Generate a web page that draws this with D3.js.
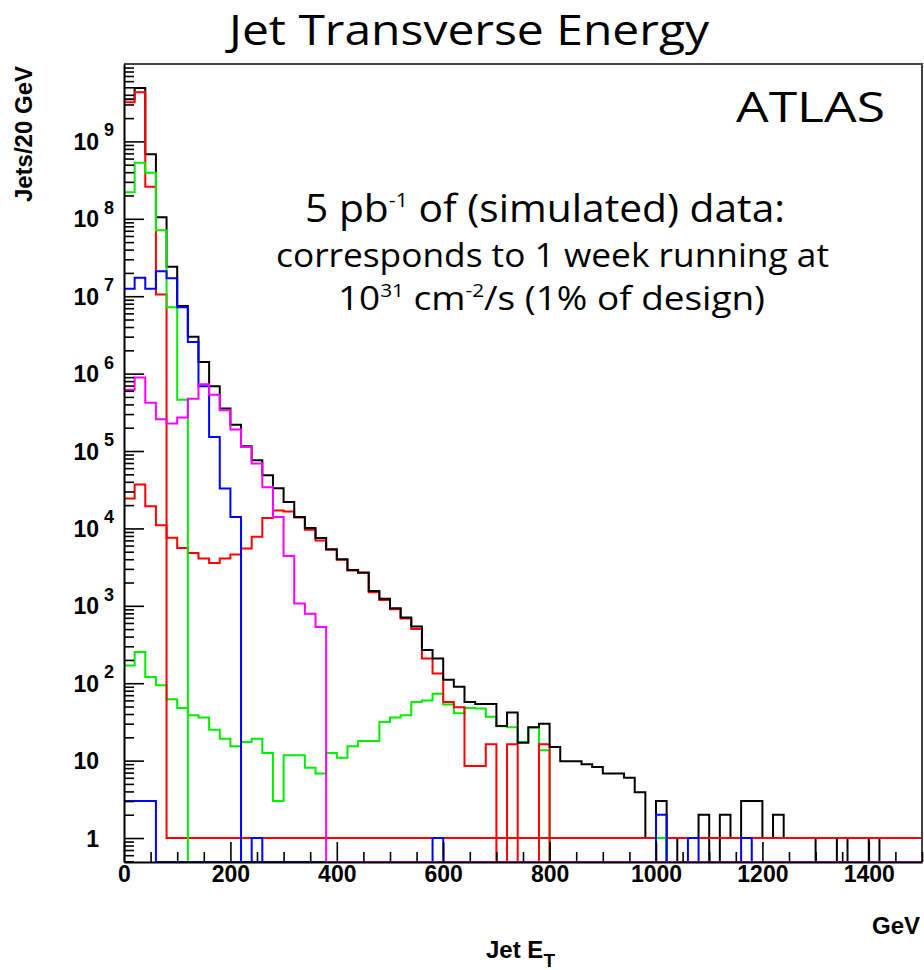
<!DOCTYPE html>
<html>
<head>
<meta charset="utf-8">
<script src="https://cdn.jsdelivr.net/npm/d3@7"></script>
<style>
body { margin: 0; background: #fff; }
.lab { font: bold 23px "Liberation Sans", Arial, sans-serif; fill: #000; }
.note { font-family: "Open Sans", sans-serif; fill: #000; }
</style>
</head>
<body>
<svg id="chart" width="924" height="970"></svg>
<script>
// 20 GeV bins from 0 to 1500 GeV (75 bins)
var binWidth = 20;

var total = [3.5e9, 4.9e9, 6.8e8, 1.05e8, 2.4e7, 7.5e6, 3.0e6, 1.41e6, 6.85e5, 3.53e5,
  2.19e5, 1.15e5, 7.6e4, 4.86e4, 3.3e4, 2.2e4, 1.4e4, 1.01e4, 7.5e3, 5.4e3,
  4.0e3, 2.9e3, 2.7e3, 1.55e3, 1.23e3, 930, 705, 540, 268, 209,
  111, 90, 57, 54, 54, 28, 42, 17, 27, 30,
  15, 9.8, 9.8, 9.0, 8.3, 6.8, 6.8, 6.0, 3.9, 1,
  3, 0, 1, 1, 2, 0, 2, 1, 3, 3,
  1, 2, 1, 1, 1, 0, 0, 1, 0, 0,
  1, 0, 0, 0, 0];

var redHigh = [3.2e9, 4.3e9, 2.6e8, 1.05e7, 1, 1, 1, 1, 1, 1,
  1, 1, 1, 1, 1, 1, 1, 1, 1, 1,
  1, 1, 1, 1, 1, 1, 1, 1, 1, 1,
  1, 1, 1, 1, 1, 1, 1, 1, 1, 1,
  1, 1, 1, 1, 1, 1, 1, 1, 1, 1,
  1, 1, 1, 1, 1, 1, 1, 1, 1, 1,
  1, 1, 1, 1, 1, 1, 1, 1, 1, 1,
  1, 1, 1, 1, 1];

var redLow = [2.43e4, 3.7e4, 1.93e4, 1.1e4, 7.6e3, 5.6e3, 4.8e3, 4.1e3, 3.57e3, 4.1e3,
  4.6e3, 5.5e3, 7.8e3, 1.36e4, 1.7e4, 1.65e4, 1.38e4, 9.6e3, 7.0e3, 5.3e3,
  3.95e3, 2.85e3, 2.65e3, 1.5e3, 1.19e3, 900, 685, 500, 208, 134,
  57, 49, 8.5, 8.5, 16.3, 0, 16.3, 0, 0, 16.3,
  0, 0, 0, 0, 0, 0, 0, 0, 0, 0,
  0, 0, 0, 0, 0, 0, 0, 0, 0, 0,
  0, 0, 0, 0, 0, 0, 0, 0, 0, 0,
  0, 0, 0, 0, 0];

var greenHigh = [2.2e8, 5.3e8, 3.95e8, 7.1e7, 7.2e6, 4.6e5, 0, 0, 0, 0,
  0, 0, 0, 0, 0, 0, 0, 0, 0, 0,
  0, 0, 0, 0, 0, 0, 0, 0, 0, 0,
  0, 0, 0, 0, 0, 0, 0, 0, 0, 0,
  0, 0, 0, 0, 0, 0, 0, 0, 0, 0,
  1, 0, 0, 0, 0, 0, 0, 0, 0, 0,
  0, 0, 0, 0, 0, 0, 0, 0, 0, 0,
  0, 0, 0, 0, 0];

var greenLow = [170, 253, 120, 94, 62, 48, 38.5, 36, 25, 19.2,
  15.3, 17.4, 19.2, 12.5, 3, 11.7, 11.7, 8.1, 6.8, 12.5,
  10.9, 15.3, 17.9, 17.9, 31.5, 36, 38.5, 57, 60, 73,
  53, 41, 48, 47, 37, 27.7, 27, 17.4, 26.7, 13.6,
  0, 0, 0, 0, 0, 0, 0, 0, 0, 0,
  0, 0, 0, 0, 0, 0, 0, 0, 0, 0,
  0, 0, 0, 0, 0, 0, 0, 0, 0, 0,
  0, 0, 0, 0, 0];

var blueHigh = [1.25e7, 1.73e7, 1.25e7, 2.1e7, 1.7e7, 7.2e6, 2.56e6, 6.85e5, 1.52e5, 3.27e4,
  1.4e4, 0, 0, 0, 0, 0, 0, 0, 0, 0,
  0, 0, 0, 0, 0, 0, 0, 0, 0, 0,
  0, 0, 0, 0, 0, 0, 0, 0, 0, 0,
  0, 0, 0, 0, 0, 0, 0, 0, 0, 0,
  0, 0, 0, 0, 0, 0, 0, 0, 0, 0,
  0, 0, 0, 0, 0, 0, 0, 0, 0, 0,
  0, 0, 0, 0, 0];

var blueLow = [3, 3, 3, 0, 0, 0, 0, 0, 0, 0,
  0, 0, 1, 0, 0, 0, 0, 0, 0, 0,
  0, 0, 0, 0, 0, 0, 0, 0, 0, 1,
  0, 0, 0, 0, 0, 0, 0, 0, 0, 0,
  0, 0, 0, 0, 0, 0, 0, 0, 0, 0,
  2, 0, 0, 1, 0, 0, 0, 0, 1, 0,
  0, 0, 0, 0, 0, 0, 0, 0, 0, 0,
  0, 0, 0, 0, 0];

var magenta = [6.2e5, 8.9e5, 4.2e5, 2.57e5, 2.26e5, 2.7e5, 4.75e5, 7.3e5, 5.35e5, 3.36e5,
  1.9e5, 1.13e5, 6.9e4, 3.4e4, 1.4e4, 4.4e3, 1.07e3, 790, 532, 0,
  0, 0, 0, 0, 0, 0, 0, 0, 0, 0,
  0, 0, 0, 0, 0, 0, 0, 0, 0, 0,
  0, 0, 0, 0, 0, 0, 0, 0, 0, 0,
  0, 0, 0, 0, 0, 0, 0, 0, 0, 0,
  0, 0, 0, 0, 0, 0, 0, 0, 0, 0,
  0, 0, 0, 0, 0];

var xMajor = [0, 200, 400, 600, 800, 1000, 1200, 1400];
var decades = [0, 1, 2, 3, 4, 5, 6, 7, 8, 9];

var svg = d3.select("#chart");
var plotL = 124, plotR = 922, plotT = 64, plotB = 862;
var yMin = 0.49;

var x = d3.scaleLinear().domain([0, 1500]).range([plotL, plotR]);
var y = d3.scaleLog().domain([yMin, 1e10]).range([plotB, plotT]);

svg.append("defs").append("clipPath").attr("id", "frame")
  .append("rect").attr("x", plotL).attr("y", plotT)
  .attr("width", plotR - plotL).attr("height", plotB - plotT);

var line = d3.line()
  .x(function(d) { return x(d[0]); })
  .y(function(d) { return y(Math.max(d[1], yMin)); })
  .curve(d3.curveStepAfter);

function histPath(vals) {
  var pts = [[0, yMin]];
  vals.forEach(function(v, i) { pts.push([i * binWidth, v]); });
  pts.push([vals.length * binWidth, vals[vals.length - 1]]);
  pts.push([vals.length * binWidth, yMin]);
  return line(pts);
}

var series = [
  {v: greenLow, c: "#00ee00"},
  {v: redLow, c: "#ff0000"},
  {v: total, c: "#000000"},
  {v: redHigh, c: "#ff0000"},
  {v: greenHigh, c: "#00ee00"},
  {v: blueHigh, c: "#0000ff"},
  {v: blueLow, c: "#0000ff"},
  {v: magenta, c: "#ff00ff"}
];

var g = svg.append("g").attr("clip-path", "url(#frame)");
series.forEach(function(s) {
  g.append("path").attr("d", histPath(s.v))
    .attr("fill", "none").attr("stroke", s.c).attr("stroke-width", 2);
});

// frame top/right
svg.append("path")
  .attr("d", "M" + plotL + "," + plotT + "H" + plotR + "V" + plotB)
  .attr("fill", "none").attr("stroke", "#444").attr("stroke-width", 2);

// x axis
var xMinor = d3.range(0, 1501, 50).filter(function(d) { return d % 200 !== 0; });
var xa = svg.append("g").attr("transform", "translate(0," + plotB + ")")
  .call(d3.axisBottom(x).tickValues(xMajor).tickSize(-20).tickSizeOuter(0)
    .tickPadding(4).tickFormat(d3.format("d")));
xa.select(".domain").attr("stroke", "#000").attr("stroke-width", 2);
xa.selectAll(".tick line").attr("stroke", "#000").attr("stroke-width", 1.6);
xa.selectAll(".tick text").attr("class", "lab");
xa.attr("font-family", null).attr("font-size", null);
var xm = svg.append("g").attr("transform", "translate(0," + plotB + ")")
  .call(d3.axisBottom(x).tickValues(xMinor).tickSize(-10).tickFormat(""));
xm.select(".domain").remove();
xm.selectAll(".tick line").attr("stroke", "#000").attr("stroke-width", 1.6);

// y axis
var yMajor = decades.map(function(k) { return Math.pow(10, k); });
var yMinor = [];
[-1, 0, 1, 2, 3, 4, 5, 6, 7, 8, 9].forEach(function(k) {
  [2, 3, 4, 5, 6, 7, 8, 9].forEach(function(m) {
    var v = m * Math.pow(10, k);
    if (v >= yMin && v <= 1e10) yMinor.push(v);
  });
});
var ya = svg.append("g").attr("transform", "translate(" + plotL + ",0)")
  .call(d3.axisLeft(y).tickValues(yMajor).tickSize(-20).tickSizeOuter(0).tickFormat(""));
ya.select(".domain").attr("stroke", "#000").attr("stroke-width", 2);
ya.selectAll(".tick line").attr("stroke", "#000").attr("stroke-width", 1.6);
var ym = svg.append("g").attr("transform", "translate(" + plotL + ",0)")
  .call(d3.axisLeft(y).tickValues(yMinor).tickSize(-10).tickFormat(""));
ym.select(".domain").remove();
ym.selectAll(".tick line").attr("stroke", "#000").attr("stroke-width", 1.6);

decades.forEach(function(k) {
  var ty = y(Math.pow(10, k));
  svg.append("text").attr("class", "lab").attr("x", 99).attr("y", ty + 8.5)
    .style("font-size", "23px")
    .attr("text-anchor", "end").text(k === 0 ? "1" : "10");
  if (k > 1) {
    svg.append("text").attr("class", "lab").attr("x", 104).attr("y", ty - 5)
      .style("font-size", "18px").text(k);
  }
});

// axis titles
svg.append("text").attr("class", "lab")
  .attr("transform", "translate(32,66) rotate(-90)")
  .attr("text-anchor", "end").style("font-size", "24px").text("Jets/20 GeV");
svg.append("text").attr("class", "lab").attr("x", 920).attr("y", 934)
  .attr("text-anchor", "end").style("font-size", "24px").text("GeV");
var xt = svg.append("text").attr("class", "lab").attr("x", 486).attr("y", 958)
  .style("font-size", "24px");
xt.append("tspan").text("Jet E");
xt.append("tspan").attr("dy", 9).style("font-size", "19px").text("T");

// title and notes
svg.append("text").attr("class", "note").attr("x", 229).attr("y", 45)
  .attr("textLength", 480).attr("lengthAdjust", "spacingAndGlyphs")
  .style("font-size", "42px").text("Jet Transverse Energy");
svg.append("text").attr("class", "note").attr("x", 736).attr("y", 122)
  .attr("textLength", 149).attr("lengthAdjust", "spacingAndGlyphs")
  .style("font-size", "42px").text("ATLAS");

var n1 = svg.append("text").attr("class", "note").attr("x", 305).attr("y", 222)
  .attr("textLength", 480).attr("lengthAdjust", "spacingAndGlyphs")
  .style("font-size", "38px");
n1.append("tspan").text("5 pb");
n1.append("tspan").attr("dy", -15).style("font-size", "20px").text("-1");
n1.append("tspan").attr("dy", 15).text(" of (simulated) data:");

svg.append("text").attr("class", "note").attr("x", 276).attr("y", 267)
  .attr("textLength", 553).attr("lengthAdjust", "spacingAndGlyphs")
  .style("font-size", "32px").text("corresponds to 1 week running at");

var n3 = svg.append("text").attr("class", "note").attr("x", 338).attr("y", 310)
  .attr("textLength", 427).attr("lengthAdjust", "spacingAndGlyphs")
  .style("font-size", "32px");
n3.append("tspan").text("10");
n3.append("tspan").attr("dy", -13).style("font-size", "18px").text("31");
n3.append("tspan").attr("dy", 13).text(" cm");
n3.append("tspan").attr("dy", -13).style("font-size", "18px").text("-2");
n3.append("tspan").attr("dy", 13).text("/s (1% of design)");
</script>
</body>
</html>
